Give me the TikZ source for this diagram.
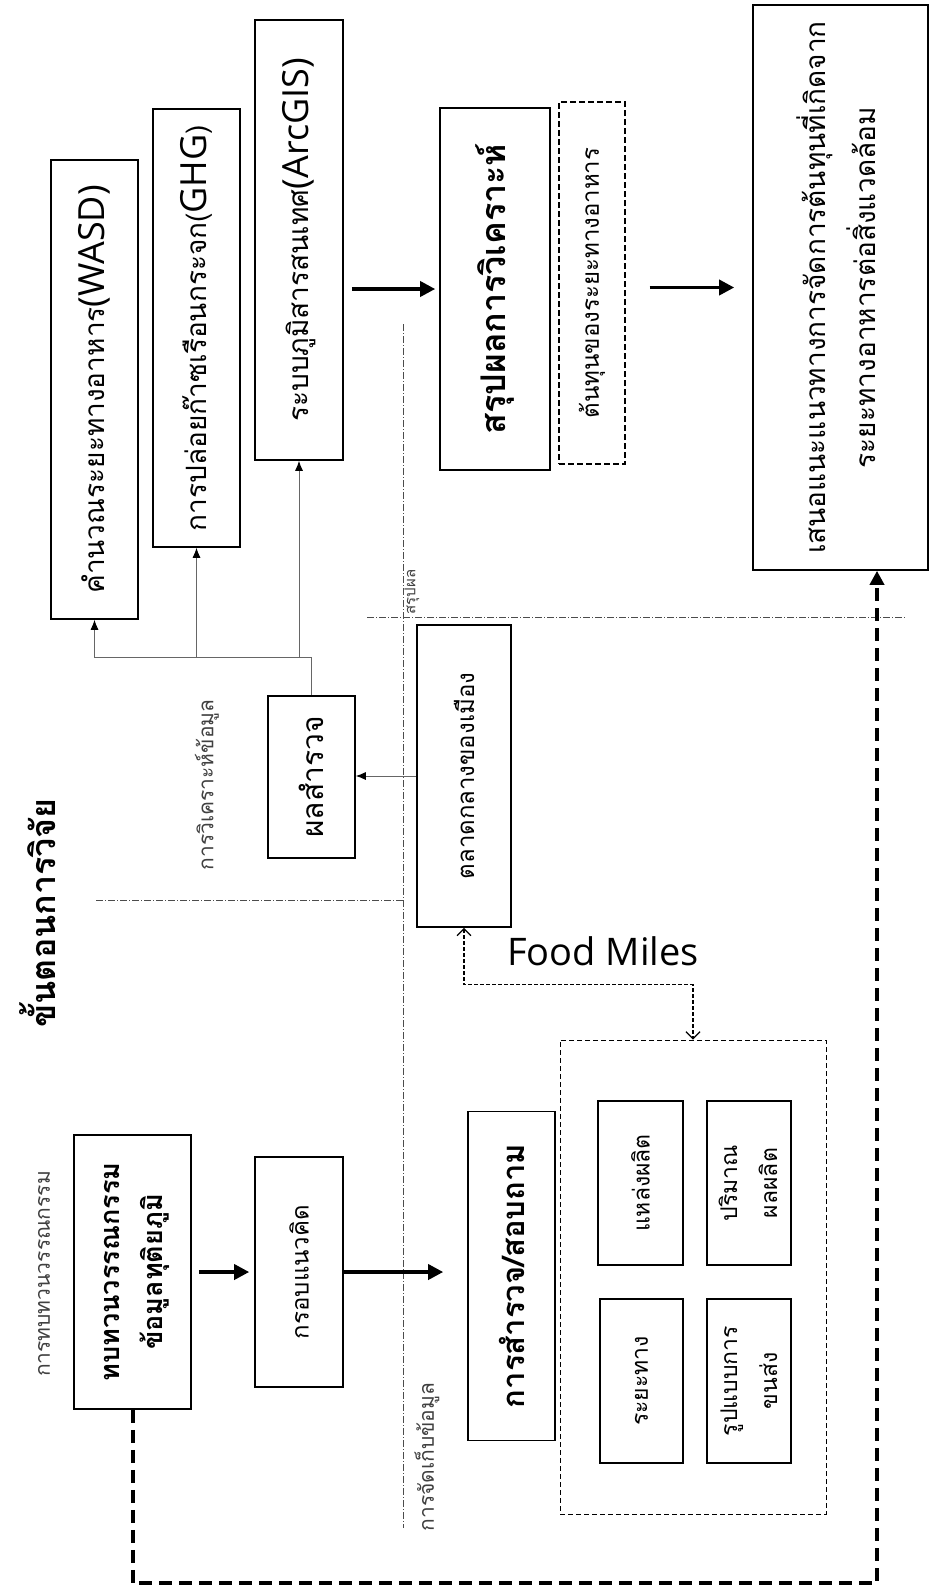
\documentclass[tikz,border=0pt]{standalone}
\usepackage{fontspec}
\setmainfont[Script=Thai]{Loma}
\newfontfamily\lat{Open Sans}
\usetikzlibrary{arrows.meta,calc}
\newcommand{\fsz}[2]{\fontsize{#1}{#2}\selectfont}
\newcommand{\rt}[1]{\rotatebox{90}{#1}}
\begin{document}
\begin{tikzpicture}[x=1pt,y=-1pt,
  bx/.style={draw, line width=1.6pt, inner sep=0pt, align=center},
  dbx/.style={draw, line width=1.4pt, dash pattern=on 6pt off 3pt, inner sep=0pt},
  lbl/.style={inner sep=0pt, text=black!75},
  thickarr/.style={line width=3.5pt, -{Triangle[length=15pt,width=15pt]}},
  gconn/.style={draw=black!60, line width=0.9pt, -{Latex[length=10pt,width=8pt,color=black]}},
  fmconn/.style={line width=1.2pt, dash pattern=on 4pt off 2pt, {Straight Barb[length=7pt,width=14pt]}-{Straight Barb[length=7pt,width=14pt]}},
  tdash/.style={line width=4pt, dash pattern=on 13pt off 7pt, -{Triangle[length=14pt,width=14pt]}},
  dd/.style={draw=black!70, line width=0.7pt, dash pattern=on 7pt off 2pt on 1pt off 2pt}
]
\useasboundingbox[fill=white] (0,0) rectangle (929,1596);

% labels
\node[inner sep=0pt] (title) at (38,913) {\rt{\fsz{34}{40}\bfseries ขั้นตอนการวิจัย}};
\node[lbl] (l1) at (44,1274) {\rt{\fsz{21}{25}การทบทวนวรรณกรรม}};
\node[lbl] (l2) at (207,785) {\rt{\fsz{21}{25}การวิเคราะห์ข้อมูล}};
\node[lbl] (l3) at (427,1457) {\rt{\fsz{21}{25}การจัดเก็บข้อมูล}};
\node[lbl] (l4) at (412,592) {\rt{\fsz{15}{18}สรุปผล}};
\node[inner sep=0pt] (fm) at (603,951) {\lat\fsz{38}{44}Food Miles};

% top boxes
\node[bx, minimum width=87pt, minimum height=459pt] (wasd) at (94.5,389.5)
  {\rt{\fsz{28}{34}คำนวณระยะทางอาหาร{\lat\fsz{36}{40}(WASD)}}};
\node[bx, minimum width=87pt, minimum height=438pt] (ghg) at (196.5,328)
  {\rt{\fsz{28}{34}การปล่อยก๊าซเรือนกระจก({\lat\fsz{36}{40}GHG})}};
\node[bx, minimum width=88pt, minimum height=440pt] (arc) at (299,240)
  {\rt{\fsz{28}{34}ระบบภูมิสารสนเทศ{\lat\fsz{36}{40}(ArcGIS)}}};
\node[bx, minimum width=87pt, minimum height=162pt] (res) at (311.5,777)
  {\rt{\fsz{30}{36}ผลสำรวจ}};
\node[bx, minimum width=94pt, minimum height=302pt] (market) at (464,776)
  {\rt{\fsz{24}{30}ตลาดกลางของเมือง}};
\node[bx, minimum width=110pt, minimum height=362pt] (summary) at (495,289)
  {\rt{\fsz{34}{40}\bfseries สรุปผลการวิเคราะห์}};
\node[dbx, minimum width=66pt, minimum height=362pt] (cost) at (592,283)
  {\rt{\fsz{24}{30}ต้นทุนของระยะทางอาหาร}};
\node[bx, minimum width=175pt, minimum height=565pt] (big) at (840.5,287.5)
  {\rt{\fsz{28}{50}\begin{tabular}{@{}c@{}}เสนอแนะแนวทางการจัดการต้นทุนที่เกิดจาก\\ระยะทางอาหารต่อสิ่งแวดล้อม\end{tabular}}};

% bottom boxes
\node[bx, minimum width=117pt, minimum height=274pt] (lit) at (132.5,1272)
  {\rt{\fsz{27}{43}\bfseries\begin{tabular}{@{}c@{}}ทบทวนวรรณกรรม\\ข้อมูลทุติยภูมิ\end{tabular}}};
\node[bx, minimum width=88pt, minimum height=230pt] (frame) at (299,1272)
  {\rt{\fsz{24}{30}กรอบแนวคิด}};
\node[bx, minimum width=87pt, minimum height=329pt] (survey) at (511.5,1276)
  {\rt{\fsz{31}{38}\bfseries การสำรวจ/สอบถาม}};
\node[dbx, line width=1pt, dash pattern=on 5pt off 3pt, minimum width=266pt, minimum height=474pt] (group) at (693,1277) {};
\node[bx, minimum width=85pt, minimum height=164pt] (src) at (640.5,1183)
  {\rt{\fsz{23}{28}แหล่งผลิต}};
\node[bx, minimum width=84pt, minimum height=164pt] (qty) at (749,1183)
  {\rt{\fsz{23}{40}\begin{tabular}{@{}c@{}}ปริมาณ\\ผลผลิต\end{tabular}}};
\node[bx, minimum width=83pt, minimum height=164pt] (dist) at (641.5,1381)
  {\rt{\fsz{23}{28}ระยะทาง}};
\node[bx, minimum width=84pt, minimum height=164pt] (mode) at (749,1381)
  {\rt{\fsz{23}{40}\begin{tabular}{@{}c@{}}รูปแบบการ\\ขนส่ง\end{tabular}}};

% section separators
\draw[dd] (367,617) -- (906,617);
\draw[dd] (403,324) -- (403,1528);
\draw[dd] (96,900) -- (403,900);

% connectors
\coordinate (hub) at (res.north |- 0,657);
\draw[gconn] (res.north) -- (hub) -| (wasd.south);
\draw[gconn] (hub) -| (ghg.south);
\draw[gconn] (hub) -| (arc.south);
\draw[gconn] (market.west) -- (market.west -| res.east);
\draw[fmconn] (market.south) -- ++(0,57) -| (group.north);

\draw[thickarr, shorten <=7pt, shorten >=5pt] (lit.east) -- (frame.west);
\draw[thickarr, shorten >=24pt] (frame.east) -- (frame.east -| survey.west);
\draw[thickarr, shorten <=8pt, shorten >=4pt] (arc.east |- summary.west) -- (summary.west);
\draw[thickarr, shorten <=24pt, shorten >=18pt] (cost.east |- big.west) -- (big.west);
\draw[tdash] (lit.south) |- (877,1583) -- (big.south -| 877,0);
\end{tikzpicture}
\end{document}
